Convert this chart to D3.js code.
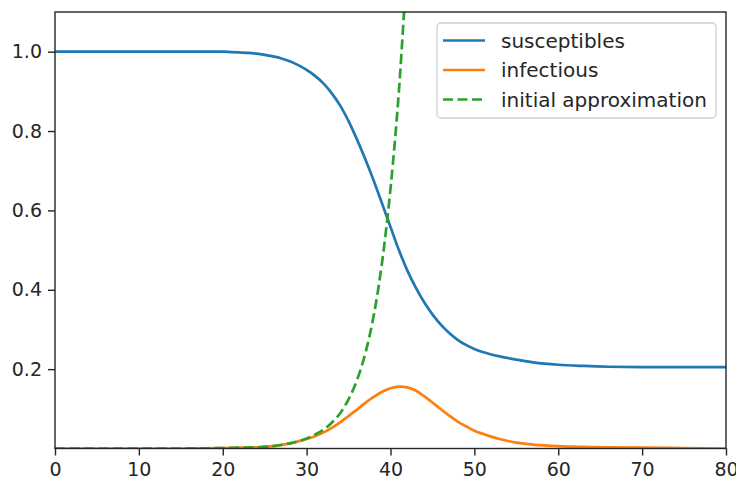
<!DOCTYPE html>
<html>
<head>
<meta charset="utf-8">
<script src="https://cdn.jsdelivr.net/npm/d3@7"></script>
<style>
  body { margin: 0; background: #fff; }
  svg text { font-family: "DejaVu Sans", sans-serif; fill: #262626; }
</style>
</head>
<body>
<svg id="chart" width="736" height="481"></svg>
<script>
// ---- data ----
const sDays = [0, 5, 10, 15, 20, 21, 22, 23, 24, 25, 26, 27, 28, 29, 30, 31, 32, 33, 34, 35, 36, 37, 38, 39, 40,
  41, 42, 43, 44, 45, 46, 47, 48, 49, 50, 51, 52, 53, 55, 57, 60, 63, 66, 70, 75, 80];
const susceptibles = [1.000, 1.000, 1.000, 1.000, 1.000, 0.999, 0.998, 0.997, 0.995, 0.992, 0.988, 0.983, 0.976, 0.966,
  0.954, 0.939, 0.920, 0.895, 0.864, 0.825, 0.779, 0.729, 0.675, 0.617, 0.558,
  0.500, 0.449, 0.406, 0.369, 0.338, 0.312, 0.291, 0.274, 0.261, 0.251, 0.243, 0.237, 0.232, 0.224, 0.217,
  0.211, 0.208, 0.206, 0.205, 0.205, 0.205];

const iDays = [0, 5, 10, 15, 20, 22, 24, 26, 28, 29, 30, 31, 32, 33, 34, 35, 36, 37, 38, 39, 40,
  41, 42, 43, 44, 45, 46, 47, 48, 49, 50, 51, 52, 53, 54, 55, 57, 60, 63, 66, 70, 75, 80];
const infectious = [0.000, 0.000, 0.000, 0.000, 0.001, 0.002, 0.003, 0.006, 0.013, 0.018, 0.024, 0.031, 0.040,
  0.052, 0.066, 0.082, 0.098, 0.115, 0.130, 0.143, 0.152,
  0.156, 0.154, 0.146, 0.132, 0.116, 0.099, 0.083, 0.068, 0.056, 0.045, 0.037, 0.030, 0.024, 0.019, 0.015,
  0.010, 0.006, 0.004, 0.003, 0.002, 0.001, 0.000];

const aDays = [0, 5, 10, 15, 20, 22, 24, 26, 28, 29, 30, 31, 32, 33, 34, 35, 36, 37, 38, 39, 40, 41, 42];
const approximation = [0.000, 0.000, 0.000, 0.000, 0.001, 0.002, 0.003, 0.006, 0.013, 0.018, 0.025, 0.035,
  0.047, 0.065, 0.089, 0.124, 0.172, 0.240, 0.335, 0.470, 0.655, 0.900, 1.240];

const xTicks = [0, 10, 20, 30, 40, 50, 60, 70, 80];
const yTicks = [0.2, 0.4, 0.6, 0.8, 1.0];

const seriesNames = ['susceptibles', 'infectious', 'initial approximation'];
const seriesColors = ['#1f77b4', '#ff7f0e', '#2ca02c'];

// ---- layout ----
const width = 736, height = 481;
const margin = {top: 12, right: 10, bottom: 32.5, left: 55};

const svg = d3.select('#chart');

const x = d3.scaleLinear().domain([0, 80]).range([margin.left, width - margin.right]);
const y = d3.scaleLinear().domain([0, 1.1]).range([height - margin.bottom, margin.top]);

svg.append('defs').append('clipPath')
  .attr('id', 'plotClip')
  .append('rect')
  .attr('x', margin.left)
  .attr('y', margin.top)
  .attr('width', x.range()[1] - margin.left)
  .attr('height', y.range()[0] - margin.top);

const line = d3.line()
  .x(d => x(d[0]))
  .y(d => y(d[1]))
  .curve(d3.curveCatmullRom.alpha(0.5));

const plot = svg.append('g').attr('clip-path', 'url(#plotClip)');

const drawSeries = (days, values, color, dashed) => {
  plot.append('path')
    .datum(d3.zip(days, values))
    .attr('d', line)
    .attr('fill', 'none')
    .attr('stroke', color)
    .attr('stroke-width', 2.7)
    .attr('stroke-linecap', dashed ? 'butt' : 'square')
    .attr('stroke-dasharray', dashed ? '10,4.5' : null);
};

drawSeries(sDays, susceptibles, seriesColors[0], false);
drawSeries(iDays, infectious, seriesColors[1], false);
drawSeries(aDays, approximation, seriesColors[2], true);

// ---- axes ----
const xAxis = svg.append('g')
  .attr('transform', `translate(0,${y(0)})`)
  .call(d3.axisBottom(x).tickValues(xTicks).tickFormat(d3.format('d')).tickSize(7).tickPadding(7));

const yAxis = svg.append('g')
  .attr('transform', `translate(${margin.left},0)`)
  .call(d3.axisLeft(y).tickValues(yTicks).tickFormat(d3.format('.1f')).tickSize(7).tickPadding(6));

[xAxis, yAxis].forEach(ax => {
  ax.select('.domain').remove();
  ax.selectAll('.tick line').attr('stroke', '#262626').attr('stroke-width', 1.4);
  ax.selectAll('.tick text')
    .attr('font-size', '19px')
    .attr('font-family', '"DejaVu Sans", sans-serif')
    .attr('fill', '#262626');
});

// frame
svg.append('rect')
  .attr('x', margin.left)
  .attr('y', margin.top)
  .attr('width', x.range()[1] - margin.left)
  .attr('height', y.range()[0] - margin.top)
  .attr('fill', 'none')
  .attr('stroke', '#262626')
  .attr('stroke-width', 1.4);

// ---- legend ----
const legend = svg.append('g').attr('transform', 'translate(437,23)');
legend.append('rect')
  .attr('width', 279)
  .attr('height', 95)
  .attr('rx', 4)
  .attr('fill', 'rgba(255,255,255,0.8)')
  .attr('stroke', '#d0d0d0')
  .attr('stroke-width', 1.3);

seriesNames.forEach((name, i) => {
  const row = legend.append('g').attr('transform', `translate(0,${17.5 + i * 29.5})`);
  row.append('line')
    .attr('x1', 6)
    .attr('x2', 48)
    .attr('stroke', seriesColors[i])
    .attr('stroke-width', 2.7)
    .attr('stroke-dasharray', i === 2 ? '10,4.5' : null);
  row.append('text')
    .attr('x', 64)
    .attr('dy', '0.35em')
    .attr('font-size', '20px')
    .text(name);
});
</script>
</body>
</html>
